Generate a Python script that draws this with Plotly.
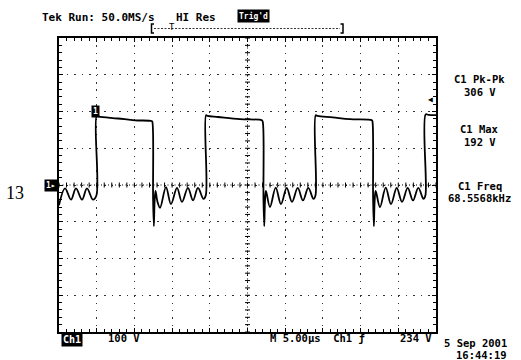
import plotly.graph_objects as go

t_us = [0.0, 0.8, 1.59, 2.25, 3.05, 3.71, 4.5, 4.97,
        5.0, 5.3, 7.82, 10.08, 12.3,
        12.38, 12.48, 12.58, 12.68, 12.8, 13.05, 13.4, 14.19, 14.85, 15.65, 16.31, 17.1, 17.77, 18.43, 19.16, 19.47,
        19.5, 19.7, 21.1, 24.0, 26.9,
        27.02, 27.12, 27.22, 27.32, 27.45, 27.98, 28.74, 29.44, 30.2, 30.9, 31.66, 32.36, 33.06, 33.75, 34.02,
        34.05, 34.3, 36.3, 38.6, 41.5,
        41.58, 41.66, 41.76, 41.86, 42.0, 42.57, 43.33, 44.03, 44.79, 45.49, 46.25, 46.95, 47.65, 48.34, 48.6,
        48.63, 49.0, 50.0]
v_ch1 = [-55, -9, -40, -9, -40, -9, -40, -28,
         188, 186, 181, 176, 174,
         172, -40, -112, -45, -16, -45, -62, -6, -52, -8, -46, -8, -42, -8, -38, -28,
         190, 188, 185, 179, 176,
         172, -40, -112, -45, -16, -60, -7, -52, -8, -46, -8, -42, -8, -38, -28,
         190, 188, 184, 179, 176,
         172, -40, -112, -45, -16, -60, -7, -52, -8, -46, -8, -42, -8, -38, -28,
         192, 191, 190]

time_per_div_us = 5
volts_per_div = 100
n_xdiv, n_ydiv = 10, 8
trig_level_v = 234

header_texts = ["Tek Run: 50.0MS/s", "HI Res"]
trig_state = "Trig'd"
meas_names = ["C1 Pk-Pk", "C1 Max", "C1 Freq"]
meas_values = ["306 V", "192 V", "68.5568kHz"]
channel_name = "Ch1"
channel_scale = "100 V"
timebase_text = "M 5.00\u00b5s  Ch1 \u0192"
trig_text = "234 V"
date_text = "5 Sep 2001"
time_text = "16:44:19"
side_label = "13"

# ---------------- layout geometry ----------------
W, H = 521, 360
L, R, T, B = 59, 85, 38, 28
PW, PH = W - L - R, H - T - B
MONO = "DejaVu Sans Mono"

def px(xp):
    return (xp - L) / PW

def py(yp):
    return (H - B - yp) / PH

xmax = time_per_div_us * n_xdiv
ymax = volts_per_div * n_ydiv / 2

fig = go.Figure()
fig.add_trace(go.Scatter(x=t_us, y=v_ch1, mode="lines",
                         line=dict(color="black", width=1.8, shape="spline", smoothing=1.0),
                         hoverinfo="skip"))

ann = []
def note(xp, yp, text, size=11, xanchor="center", color="black", bg=None, family=MONO, bold=True, pad=0):
    ann.append(dict(xref="paper", yref="paper", x=px(xp), y=py(yp), text=("<b>%s</b>" % text) if bold else text,
                    showarrow=False, xanchor=xanchor, yanchor="middle",
                    font=dict(family=family, size=size, color=color),
                    bgcolor=bg, borderpad=pad))

# header
note(41, 17, header_texts[0], 11, "left")
note(175, 17, header_texts[1], 11, "left")
note(253, 16, trig_state, 8, "center", color="white", bg="black", pad=1)
note(172, 27, "T", 9, "center", bold=False)

# measurements
meas_y = [85.5, 135.5, 192]
for name, val, yy in zip(meas_names, meas_values, meas_y):
    note(480, yy - 6.25, name, 10.5)
    note(480, yy + 6.25, val, 10.5)

# bottom readouts
note(61, 339, channel_name, 10, "left", color="white", bg="black", pad=1)
note(107, 338, channel_scale, 10.5, "left")
note(269, 338, timebase_text, 10.5, "left")
note(433, 338, trig_text, 10.5, "right")
note(508, 343, date_text, 10.5, "right")
note(508, 355, time_text, 10.5, "right")

# left side label
note(15, 193, side_label, 18, "center", family="Liberation Serif", bold=False)

# ground marker, trigger arrow, edge marker
ann.append(dict(xref="paper", yref="y", x=0, y=0, xanchor="right", yanchor="middle", xshift=-1,
                text="<b>1\u25b8</b>", showarrow=False, font=dict(family=MONO, size=8, color="white"),
                bgcolor="black", borderpad=1))
ann.append(dict(xref="paper", yref="y", x=1, y=trig_level_v, xanchor="right", yanchor="middle", xshift=-1,
                text="\u25c0", showarrow=False, font=dict(family=MONO, size=8, color="black")))
ann.append(dict(xref="x", yref="y", x=t_us[8], y=v_ch1[8], xanchor="center", yanchor="middle", yshift=4, xshift=-1,
                text="<b>1</b>", showarrow=False, font=dict(family=MONO, size=8, color="white"),
                bgcolor="black", borderpad=1))

shapes = []
# center cross lines
shapes.append(dict(type="line", xref="x", yref="y", x0=xmax / 2, x1=xmax / 2, y0=-ymax, y1=ymax,
                   line=dict(color="black", width=1, dash="1px,2.5px")))
shapes.append(dict(type="line", xref="x", yref="y", x0=0, x1=xmax, y0=0, y1=0,
                   line=dict(color="black", width=1, dash="1px,2.5px")))
# ticks on center lines (1/5 division)
xt = time_per_div_us / 5
yt = volts_per_div / 5
hx = 2.5 / PW * xmax
hy = 2.5 / PH * 2 * ymax
for i in range(n_xdiv * 5 + 1):
    x = i * xt
    shapes.append(dict(type="line", xref="x", yref="y", x0=x, x1=x, y0=-hy, y1=hy,
                       line=dict(color="black", width=1)))
for i in range(n_ydiv * 5 + 1):
    y = -ymax + i * yt
    shapes.append(dict(type="line", xref="x", yref="y", x0=xmax / 2 - hx, x1=xmax / 2 + hx, y0=y, y1=y,
                       line=dict(color="black", width=1)))

# record bracket above the graticule
def ppath(points):
    return "M " + " L ".join("%.5f,%.5f" % (px(a), py(b)) for a, b in points)
shapes.append(dict(type="path", xref="paper", yref="paper", path=ppath([(154, 24), (151.5, 24), (151.5, 33), (154, 33)]),
                   line=dict(color="black", width=1.5)))
shapes.append(dict(type="path", xref="paper", yref="paper", path=ppath([(340.5, 24), (343, 24), (343, 33), (340.5, 33)]),
                   line=dict(color="black", width=1.5)))
shapes.append(dict(type="line", xref="paper", yref="paper", x0=px(154), x1=px(340), y0=py(28.5), y1=py(28.5),
                   line=dict(color="#333", width=1, dash="2px,1.5px")))

fig.update_layout(
    width=W, height=H, margin=dict(l=L, r=R, t=T, b=B, pad=0),
    paper_bgcolor="white", plot_bgcolor="white", showlegend=False,
    annotations=ann, shapes=shapes,
    xaxis=dict(range=[0, xmax], dtick=time_per_div_us, tick0=0, showgrid=True, gridcolor="#333",
               gridwidth=1, griddash="1.5px,5.85px", showline=True, linecolor="black", linewidth=1.5,
               mirror="allticks", ticks="inside", ticklen=4, tickcolor="black", showticklabels=False,
               zeroline=False, fixedrange=True,
               minor=dict(dtick=xt, ticks="inside", ticklen=3, tickcolor="black", showgrid=False)),
    yaxis=dict(range=[-ymax, ymax], dtick=volts_per_div, tick0=0, showgrid=True, gridcolor="#333",
               gridwidth=1, griddash="1.5px,6.04px", showline=True, linecolor="black", linewidth=1.5,
               mirror="allticks", ticks="inside", ticklen=4, tickcolor="black", showticklabels=False,
               zeroline=False, fixedrange=True,
               minor=dict(dtick=yt, ticks="inside", ticklen=3, tickcolor="black", showgrid=False)),
)

fig.write_html("out.html")
